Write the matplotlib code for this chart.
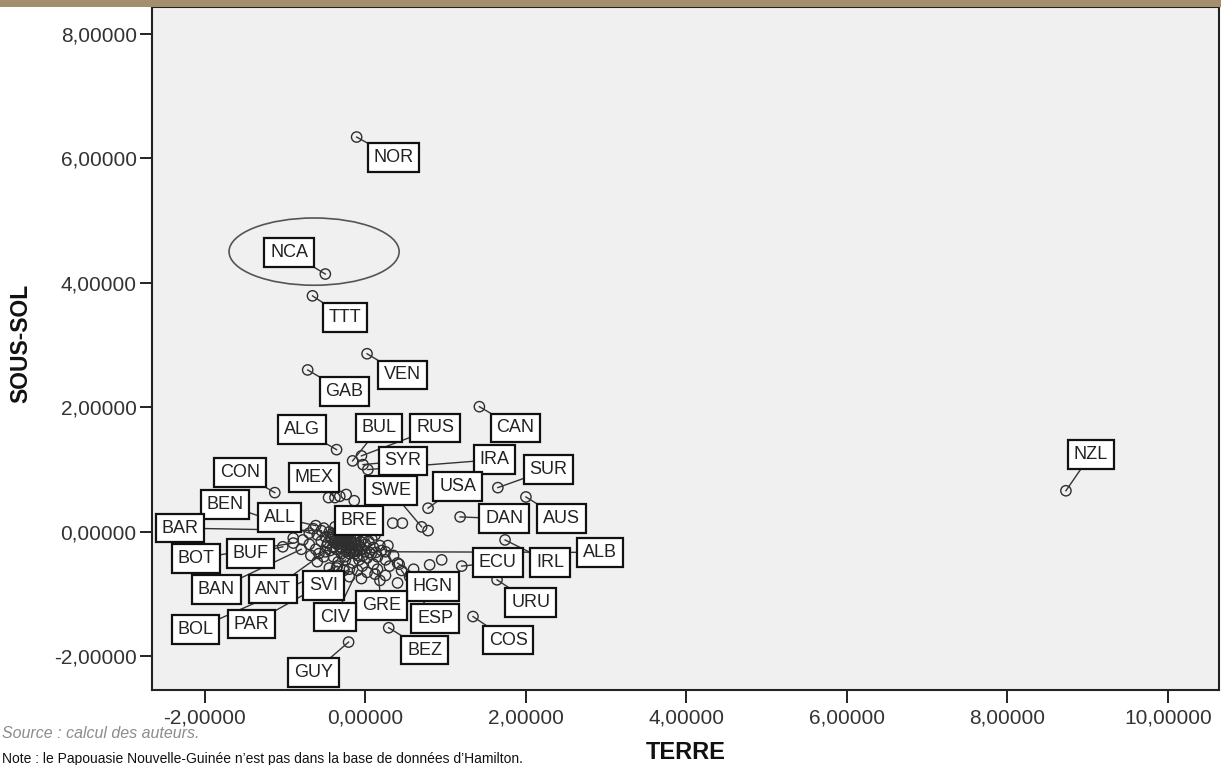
import numpy as np
import matplotlib
matplotlib.use("Agg")
from matplotlib import pyplot as plt
from matplotlib.patches import Ellipse, Rectangle
from matplotlib.ticker import FuncFormatter, MultipleLocator

plt.rcParams['font.family'] = ['Liberation Sans', 'DejaVu Sans']

# labelled countries: factor scores (TERRE, SOUS-SOL)
names = ['NOR', 'NCA', 'TTT', 'VEN', 'GAB', 'ALG', 'BUL', 'RUS', 'CAN', 'SYR',
         'IRA', 'SUR', 'USA', 'SWE', 'MEX', 'CON', 'BEN', 'BAR', 'ALL', 'BRE',
         'DAN', 'AUS', 'ALB', 'IRL', 'ECU', 'URU', 'COS', 'ESP', 'BEZ', 'HGN',
         'GRE', 'CIV', 'GUY', 'SVI', 'ANT', 'BAN', 'BUF', 'BOT', 'BOL', 'PAR',
         'NZL']
terre = [-0.11, -0.50, -0.66, 0.02, -0.72, -0.36, -0.16, -0.05, 1.42, -0.03,
         0.03, 1.65, 0.78, 0.70, -0.38, -1.13, -0.70, -0.55, -0.62, -0.22,
         1.18, 2.00, 0.25, 1.74, 1.20, 1.64, 1.34, 0.45, 0.29, 0.40,
         0.15, -0.10, -0.21, -0.25, -0.50, -0.80, -1.03, -0.90, -0.35, -0.20,
         8.73]
sous_sol = [6.34, 4.14, 3.79, 2.86, 2.60, 1.32, 1.14, 1.22, 2.01, 1.08,
            1.00, 0.71, 0.38, 0.08, 0.55, 0.63, -0.02, 0.02, 0.10, -0.05,
            0.24, 0.56, -0.32, -0.13, -0.55, -0.77, -1.36, -0.62, -1.54, -0.50,
            -0.60, -0.62, -1.77, -0.45, -0.32, -0.28, -0.24, -0.18, -0.55, -0.60,
            0.66]
# where each label box sits
lab_x = [0.35, -0.95, -0.25, 0.46, -0.26, -0.79, 0.17, 0.87, 1.87, 0.47,
         1.61, 2.28, 1.15, 0.32, -0.64, -1.56, -1.75, -2.31, -1.07, -0.08,
         1.73, 2.44, 2.92, 2.30, 1.65, 2.06, 1.78, 0.87, 0.74, 0.84,
         0.20, -0.38, -0.65, -0.52, -1.15, -1.86, -1.43, -2.11, -2.12, -1.42,
         9.04]
lab_y = [6.01, 4.49, 3.44, 2.52, 2.25, 1.64, 1.67, 1.67, 1.67, 1.14,
         1.16, 1.00, 0.73, 0.66, 0.87, 0.95, 0.44, 0.06, 0.23, 0.18,
         0.21, 0.21, -0.33, -0.49, -0.49, -1.13, -1.74, -1.39, -1.90, -0.88,
         -1.18, -1.37, -2.26, -0.86, -0.92, -0.93, -0.35, -0.43, -1.57, -1.48,
         1.24]

# unlabelled countries (dense cluster near the origin)
other_x = [-0.45, -0.40, -0.35, -0.30, -0.42, -0.38, -0.33, -0.28, -0.25, -0.22,
           -0.18, -0.15, -0.12, -0.50, -0.55, -0.48, -0.44, -0.36, -0.30, -0.26,
           -0.20, -0.10, -0.05, 0.00, 0.05, 0.10, -0.08, 0.02, -0.60, -0.65,
           -0.52, -0.38, -0.30, -0.20, -0.10, 0.08, 0.15, 0.20, -0.70, -0.62,
           -0.58, -0.40, -0.34, -0.16, -0.04, 0.10, 0.25, 0.30, -0.90, -0.78,
           -0.60, -0.45, -0.20, 0.02, 0.18, 0.25, 0.40, 0.42, 0.80, 0.95,
           0.34, 0.46, 0.78, -0.46, -0.32, -0.24, -0.14, -0.02, 0.12, -0.36,
           -0.27, -0.05, 0.28, 0.35, -0.12, 0.12, -0.52, -0.68, 0.55, 0.60,
           -0.41, -0.37, -0.32, -0.29, -0.27, -0.24, -0.21, -0.19, -0.17, -0.14,
           -0.39, -0.35, -0.31, -0.26, -0.23, -0.20, -0.16, -0.13, -0.11, -0.08,
           -0.43, -0.37, -0.33, -0.28, -0.22, -0.18, -0.06, -0.01, 0.04, 0.07,
           -0.47, -0.41, -0.34, -0.29, -0.24, -0.13, -0.09, -0.03, 0.13, 0.18]
other_y = [0.00, -0.05, -0.02, -0.08, -0.12, -0.18, -0.15, -0.20, -0.10, -0.25,
           -0.15, -0.30, -0.22, -0.08, -0.15, -0.22, -0.30, -0.28, -0.35, -0.40,
           -0.35, -0.38, -0.28, -0.20, -0.33, -0.25, -0.45, -0.42, -0.05, 0.05,
           0.06, 0.08, 0.05, 0.02, -0.05, -0.12, -0.40, -0.30, -0.20, -0.28,
           -0.35, -0.40, -0.48, -0.50, -0.55, -0.52, -0.45, -0.55, -0.10, -0.13,
           -0.48, -0.58, -0.72, -0.65, -0.78, -0.70, -0.82, -0.52, -0.53, -0.45,
           0.14, 0.14, 0.02, 0.55, 0.57, 0.60, 0.50, -0.10, -0.05, -0.58,
           -0.62, -0.75, -0.22, -0.38, -0.12, -0.68, -0.40, -0.38, -0.72, -0.60,
           -0.03, -0.07, -0.11, -0.04, -0.14, -0.06, -0.18, -0.09, -0.21, -0.12,
           -0.16, -0.20, -0.24, -0.17, -0.28, -0.22, -0.26, -0.18, -0.31, -0.23,
           -0.09, -0.13, -0.05, -0.12, -0.04, -0.30, -0.16, -0.32, -0.15, -0.36,
           -0.18, -0.25, -0.19, -0.27, -0.32, -0.35, -0.28, -0.38, -0.33, -0.22]

fig = plt.figure(figsize=(12.21, 7.65), dpi=100)
ax = fig.add_axes([0.1245, 0.098, 0.874, 0.893])
ax.set_facecolor('#f0f0f0')

ax.scatter(other_x, other_y, s=55, facecolors='none', edgecolors='#2e2e2e',
           linewidths=1.0, zorder=2)
ax.scatter(terre, sous_sol, s=55, facecolors='none', edgecolors='#2e2e2e',
           linewidths=1.0, zorder=2)

# leader lines under the label boxes
for i in range(len(names)):
    ax.plot([terre[i], lab_x[i]], [sous_sol[i], lab_y[i]], color='#333333',
            lw=1.0, zorder=3)
for i in range(len(names)):
    ax.text(lab_x[i], lab_y[i], names[i], fontsize=13, ha='center', va='center',
            color='#222222', zorder=5,
            bbox=dict(boxstyle='square,pad=0.32', facecolor='white',
                      edgecolor='#111111', lw=1.6))

# ring round NCA
ax.add_patch(Ellipse((-0.64, 4.50), 2.12, 1.08, fill=False, edgecolor='#555555',
                     lw=1.2, zorder=2))

ax.set_xlim(-2.66, 10.64)
ax.set_ylim(-2.54, 8.43)
ax.xaxis.set_major_locator(MultipleLocator(2))
ax.yaxis.set_major_locator(MultipleLocator(2))
fmt = FuncFormatter(lambda v, p: f"{v:.5f}".replace('.', ','))
ax.xaxis.set_major_formatter(fmt)
ax.yaxis.set_major_formatter(fmt)
ax.tick_params(axis='both', direction='out', length=9, width=1.4,
               labelsize=15, labelcolor='#333333', color='#222222')
ax.tick_params(axis='x', pad=4)
ax.tick_params(axis='y', pad=2)
for s in ax.spines.values():
    s.set_color('#222222')
    s.set_linewidth(1.5)

ax.set_xlabel('TERRE', fontsize=17, fontweight='bold', color='#111111')
ax.set_ylabel('SOUS-SOL', fontsize=16.5, fontweight='bold', color='#111111')
ax.xaxis.set_label_coords(0.5, -0.074)
ax.yaxis.set_label_coords(-0.112, 0.507)

# tan band across the top
fig.add_artist(Rectangle((0, 1 - 7 / 765), 1, 7 / 765, transform=fig.transFigure,
                         facecolor='#a38f6e', edgecolor='none', zorder=10))

fig.text(2 / 1221, 1 - 733 / 765, 'Source : calcul des auteurs.', ha='left',
         va='center', fontsize=11.5, style='italic', color='#8c8c8c')
fig.text(2 / 1221, 1 - 752 / 765,
         'Note : le Papouasie Nouvelle-Guinée n\u2019est pas dans la base de données d\u2019Hamilton.',
         ha='left', va='top', fontsize=10, color='#111111')

fig.savefig('out.png', dpi=100, facecolor='white')
